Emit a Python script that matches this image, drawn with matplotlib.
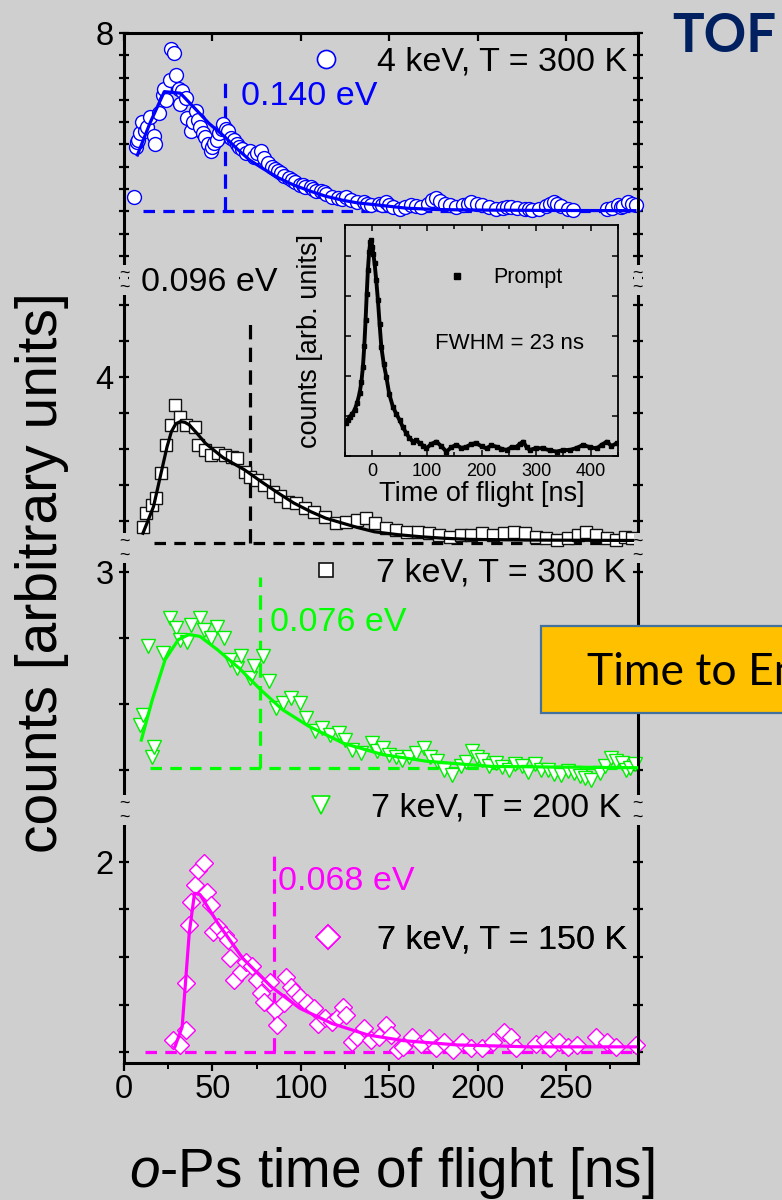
import matplotlib
matplotlib.use('Agg')
import matplotlib.pyplot as plt
from matplotlib.lines import Line2D
from matplotlib.patches import Rectangle
from matplotlib.ticker import FixedLocator, MultipleLocator

BG = '#d0cfd0'
plt.rcParams['font.family'] = ['Liberation Sans', 'DejaVu Sans']
plt.rcParams['mathtext.fontset'] = 'custom'
plt.rcParams['mathtext.it'] = 'Liberation Sans:italic'
plt.rcParams['mathtext.rm'] = 'Liberation Sans'

# ---------------- data ----------------
# 4 keV, T = 300 K (blue circles)
t_blue = [5.6, 6.6, 7.4, 8.2, 9.3, 10.2, 12.0, 13.2, 14.7, 16.7, 17.6, 19.8, 21.8, 22.8, 24.0, 25.8, 26.8,
          28.4, 29.4, 30.9, 31.9, 33.0, 34.9, 35.9, 37.9, 39.0, 40.9, 42.0, 43.0, 44.5, 46.0, 47.5, 49.0,
          50.0, 51.0, 52.5, 54.0, 55.2, 56.1, 57.5, 59.1, 60.5, 62.2, 63.7, 65.2, 67.0, 69.2, 71.0, 73.3,
          75.0, 77.3, 79.0, 81.4, 84.0, 85.5, 87.4, 89.0, 90.5, 93.5, 95.0, 96.5, 99.5, 101.0, 102.5,
          105.6, 107.0, 108.5, 111.6, 113.0, 114.5, 117.7, 121.0, 123.5, 125.8, 128.5, 131.9, 135.5,
          137.5, 139.9, 144.0, 146.0, 148.0, 150.0, 152.0, 156.1, 159.0, 162.2, 165.0, 168.2, 172.0,
          174.0, 176.3, 179.0, 181.5, 184.4, 188.0, 192.0, 194.5, 196.5, 199.5, 202.6, 206.5, 210.6,
          214.5, 216.5, 218.7, 222.5, 226.8, 229.0, 231.0, 234.9, 239.0, 241.0, 243.0, 245.0, 247.0,
          251.1, 254.0, 273.2, 276.0, 279.3, 281.0, 282.5, 285.4, 287.5, 289.4]
c_blue = [7.266, 7.49, 7.51, 7.52, 7.55, 7.60, 7.56, 7.58, 7.625, 7.54, 7.50, 7.64, 7.72, 7.75, 7.70, 7.79, 7.93,
          7.91, 7.81, 7.75, 7.68, 7.74, 7.71, 7.62, 7.56, 7.60, 7.65, 7.61, 7.58, 7.55, 7.535, 7.50, 7.47,
          7.49, 7.505, 7.52, 7.55, 7.57, 7.59, 7.57, 7.56, 7.53, 7.52, 7.50, 7.49, 7.48, 7.46, 7.47, 7.445,
          7.46, 7.47, 7.44, 7.415, 7.40, 7.39, 7.38, 7.37, 7.36, 7.35, 7.34, 7.33, 7.32, 7.32, 7.31,
          7.31, 7.30, 7.29, 7.29, 7.285, 7.28, 7.266, 7.26, 7.255, 7.266, 7.25, 7.24, 7.24,
          7.235, 7.23, 7.235, 7.23, 7.24, 7.23, 7.22, 7.21, 7.22, 7.23, 7.225, 7.22, 7.235,
          7.25, 7.26, 7.245, 7.235, 7.23, 7.22, 7.23, 7.235, 7.24, 7.235, 7.23, 7.22, 7.21,
          7.215, 7.22, 7.22, 7.215, 7.21, 7.21, 7.205, 7.21, 7.225, 7.235, 7.24, 7.235, 7.225,
          7.21, 7.205, 7.21, 7.215, 7.23, 7.22, 7.225, 7.24, 7.235, 7.23]
fit_t_blue = [7.6, 14.7, 22.8, 31.9, 40.9, 48.0, 56.9, 64.0, 71.1, 79.0, 87.4, 96.0, 105.6, 114.0,
              123.6, 132.0, 141.7, 159.9, 178.0, 196.1, 240.0, 289.0]
fit_c_blue = [7.453, 7.596, 7.737, 7.73, 7.655, 7.595, 7.535, 7.48, 7.43, 7.39, 7.35, 7.318, 7.29, 7.268,
              7.25, 7.238, 7.23, 7.214, 7.208, 7.206, 7.204, 7.203]

# 7 keV, T = 300 K (black squares)
t_black = [10.7, 12.7, 15.7, 18.3, 21.2, 23.8, 26.4, 28.8, 31.9, 34.9, 39.9, 42.0, 46.0, 49.0, 53.1,
           57.1, 61.1, 64.2, 68.2, 71.3, 75.3, 79.4, 84.4, 88.5, 92.5, 97.5, 102.6, 107.6, 113.7,
           119.7, 125.8, 131.9, 136.9, 142.0, 148.0, 154.1, 160.1, 166.2, 172.3, 178.3, 184.4, 190.4,
           196.5, 202.6, 208.6, 214.7, 220.8, 226.8, 232.9, 238.9, 245.0, 251.0, 257.1, 261.2, 267.2,
           273.3, 278.3, 283.4, 287.4]
c_black = [3.584, 3.621, 3.644, 3.663, 3.733, 3.811, 3.867, 3.922, 3.89, 3.867, 3.862, 3.811, 3.797,
           3.783, 3.79, 3.783, 3.779, 3.774, 3.737, 3.723, 3.714, 3.70, 3.681, 3.668, 3.654, 3.649,
           3.635, 3.626, 3.612, 3.594, 3.598, 3.603, 3.607, 3.594, 3.58, 3.575, 3.57, 3.57, 3.566,
           3.561, 3.556, 3.561, 3.561, 3.566, 3.561, 3.566, 3.57, 3.566, 3.556, 3.552, 3.547, 3.552,
           3.561, 3.57, 3.561, 3.552, 3.547, 3.556, 3.552]
fit_t_black = [10.7, 13.5, 16.7, 19.0, 21.8, 24.3, 26.8, 29.3, 31.9, 34.4, 36.9, 41.0, 46.0, 56.0, 68.2,
               78.0, 87.4, 96.0, 105.6, 114.0, 123.6, 132.0, 141.7, 155.0, 168.5, 181.0, 195.3, 230.0,
               289.4]
fit_c_black = [3.566, 3.60, 3.64, 3.69, 3.751, 3.805, 3.848, 3.870, 3.876, 3.874, 3.867, 3.845, 3.816,
               3.776, 3.742, 3.708, 3.677, 3.65, 3.626, 3.608, 3.594, 3.582, 3.57, 3.562, 3.556, 3.552,
               3.549, 3.547, 3.546]

# 7 keV, T = 200 K (green triangles)
t_green = [9.0, 11.0, 13.5, 16.0, 17.2, 22.1, 25.8, 29.5, 31.9, 35.6, 38.1, 43.0, 45.4, 49.1, 52.8,
           56.5, 60.2, 63.9, 66.3, 71.3, 73.7, 78.6, 82.3, 86.0, 89.7, 94.6, 99.5, 103.2, 108.1, 111.8,
           116.7, 121.6, 125.0, 129.1, 134.0, 140.1, 143.0, 146.3, 150.0, 153.7, 157.0, 161.0, 165.0,
           169.6, 173.0, 177.0, 181.0, 185.6, 190.5, 193.5, 196.6, 199.5, 202.8, 206.5, 210.2, 214.0,
           217.6, 221.0, 224.9, 228.5, 232.3, 236.0, 239.7, 243.5, 247.1, 251.0, 254.5, 258.0, 261.0,
           264.3, 269.2, 272.0, 275.4, 278.5, 281.5, 284.0, 286.4, 289.0]
c_green = [2.768, 2.783, 2.887, 2.72, 2.735, 2.877, 2.93, 2.915, 2.897, 2.894, 2.92, 2.93, 2.912, 2.90,
           2.917, 2.90, 2.867, 2.854, 2.872, 2.839, 2.857, 2.872, 2.834, 2.793, 2.801, 2.809, 2.801,
           2.778, 2.758, 2.763, 2.753, 2.756, 2.745, 2.73, 2.725, 2.74, 2.728, 2.733, 2.722, 2.72,
           2.715, 2.72, 2.726, 2.733, 2.72, 2.713, 2.70, 2.692, 2.705, 2.712, 2.728, 2.72, 2.715,
           2.706, 2.71, 2.704, 2.70, 2.708, 2.705, 2.697, 2.708, 2.70, 2.70, 2.694, 2.692, 2.698,
           2.695, 2.69, 2.687, 2.685, 2.695, 2.706, 2.718, 2.713, 2.71, 2.699, 2.703, 2.708]
fit_t_green = [9.8, 16.0, 23.3, 30.7, 36.8, 43.0, 52.8, 65.1, 77.4, 89.7, 104.5, 124.2, 146.3, 170.9,
               207.8, 290.0]
fit_c_green = [2.745, 2.806, 2.867, 2.897, 2.905, 2.902, 2.882, 2.854, 2.821, 2.791, 2.766, 2.74, 2.723,
               2.713, 2.705, 2.703]

# 7 keV, T = 150 K (magenta diamonds)
t_mag = [27.8, 31.9, 34.9, 34.9, 36.9, 37.9, 39.9, 42.0, 45.0, 47.0, 49.0, 50.1, 53.1, 57.1, 59.1,
         60.2, 62.2, 66.2, 69.2, 72.3, 75.3, 77.3, 79.4, 82.4, 85.4, 86.4, 90.5, 91.5, 94.5, 96.5,
         99.5, 103.6, 107.6, 109.7, 113.7, 117.7, 120.8, 123.8, 125.8, 128.8, 131.9, 135.9, 139.9,
         144.0, 148.0, 151.1, 155.1, 158.1, 163.2, 168.2, 172.3, 176.3, 181.3, 186.4, 191.4, 196.5,
         202.6, 208.6, 214.7, 218.7, 221.8, 232.9, 237.9, 240.9, 246.0, 251.1, 256.1, 267.2, 273.3,
         278.3, 289.4]
c_mag = [1.625, 1.615, 1.646, 1.745, 1.867, 1.916, 1.952, 1.983, 1.997, 1.937, 1.909, 1.853, 1.864,
         1.846, 1.836, 1.797, 1.752, 1.769, 1.79, 1.78, 1.752, 1.724, 1.706, 1.748, 1.688, 1.657,
         1.703, 1.758, 1.737, 1.727, 1.716, 1.703, 1.692, 1.66, 1.671, 1.664, 1.674, 1.695, 1.678,
         1.622, 1.632, 1.65, 1.625, 1.632, 1.657, 1.636, 1.604, 1.611, 1.632, 1.618, 1.629, 1.608,
         1.622, 1.604, 1.622, 1.608, 1.608, 1.622, 1.643, 1.632, 1.608, 1.618, 1.625, 1.608, 1.622,
         1.611, 1.615, 1.632, 1.622, 1.611, 1.615]
fit_t_mag = [28.8, 32.9, 36.9, 39.9, 43.0, 53.1, 67.2, 83.4, 99.5, 117.7, 137.9, 158.1, 188.4, 228.8, 289.4]
fit_c_mag = [1.611, 1.653, 1.85, 1.934, 1.931, 1.871, 1.797, 1.737, 1.692, 1.66, 1.636, 1.624, 1.615,
             1.611, 1.611]

series_labels = ['4 keV, T = 300 K', '7 keV, T = 300 K', '7 keV, T = 200 K', '7 keV, T = 150 K']
energy_labels = ['0.140 eV', '0.096 eV', '0.076 eV', '0.068 eV']
t_energy = [57.1, 71.3, 77.0, 85.0]          # ns, vertical dashed markers
top_energy = [7.80, 4.158, 2.992, 2.029]      # top of vertical markers
baseline = [7.20, 3.539, 2.703, 1.60]
baseline_start = [10.7, 16.7, 14.7, 11.7]

# inset: prompt peak
t_prompt = [-47.7, -44.5, -41.7, -37.0, -32.5, -28.0, -23.3, -20.0, -17.2, -14.7, -12.3, -10.2, -8.1,
            -5.8, -3.7, -1.8, 0.0, 2.0, 4.2, 7.2, 10.3, 13.4, 16.5, 21.0, 25.7, 31.0, 37.8, 44.0, 50.0,
            56.0, 62.3, 68.0, 74.5, 80.5, 86.8, 93.0, 99.0, 108.0, 117.4, 126.0, 135.8, 145.0, 154.1,
            163.0, 172.5, 181.5, 190.8, 200.0, 209.2, 218.0, 227.5, 236.5, 245.9, 255.0, 264.2, 270.0,
            276.4, 282.5, 288.6, 300.0, 313.1, 325.0, 337.6, 350.0, 362.0, 374.0, 386.4, 398.0, 411.0,
            420.0, 429.4, 438.0, 447.7]
c_prompt = [0.82, 0.90, 0.98, 1.05, 1.15, 1.32, 1.57, 1.85, 2.23, 2.75, 3.40, 4.05, 4.65,
            5.10, 5.36, 5.40, 5.23, 5.05, 4.82, 4.40, 3.90, 3.30, 2.73, 2.30, 1.98, 1.55, 1.23, 1.05, 0.90,
            0.72, 0.57, 0.45, 0.36, 0.40, 0.32, 0.26, 0.19, 0.30, 0.36, 0.25, 0.11, 0.22, 0.28,
            0.20, 0.23, 0.30, 0.32, 0.24, 0.19, 0.27, 0.23, 0.18, 0.15, 0.22, 0.23, 0.30,
            0.36, 0.22, 0.15, 0.20, 0.19, 0.14, 0.11, 0.15, 0.15, 0.20, 0.28, 0.22, 0.19,
            0.28, 0.36, 0.25, 0.32]

# ---------------- layout ----------------
W, H = 782, 1200
X0, X1 = 124, 637.5
bounds = [33, 280, 548, 810, 1063]
ylims = [(6.892, 8.0), (3.525, 4.269), (2.639, 3.036), (1.577, 2.109)]
yticks = [[6.9, 7.0, 7.1, 7.2, 7.3, 7.4, 7.5, 7.6, 7.7, 7.8, 7.9, 8.0],
          [3.6, 3.7, 3.8, 3.9, 4.0, 4.1, 4.2],
          [2.7, 2.8, 2.9, 3.0],
          [1.6, 1.7, 1.8, 1.9, 2.0]]
ylabeled = [8.0, 4.0, 3.0, 2.0]
ylabeltxt = ['8', '4', '3', '2']
XLIM = (0, 290.5)

colors = ['#0000ff', '#000000', '#00ff00', '#ff00ff']
markers = ['o', 's', 'v', 'D']
msizes = [10, 8.5, 10.5, 9.5]
legend_ms = [13, 9.5, 13, 12]
mec = ['#0000ff', '#111111', '#00ee00', '#ff00ff']
FS = 24.5     # legend / annotation text
TFS = 23.5    # tick labels

fig = plt.figure(figsize=(W / 100, H / 100), dpi=100, facecolor=BG)


def frect(x0, ytop, x1, ybot):
    return [x0 / W, 1 - ybot / H, (x1 - x0) / W, (ybot - ytop) / H]


axes = []
for i in range(4):
    ax = fig.add_axes(frect(X0, bounds[i], X1, bounds[i + 1]))
    ax.set_facecolor('none')
    ax.set_xlim(*XLIM)
    ax.set_ylim(*ylims[i])
    for s in ax.spines.values():
        s.set_linewidth(2.2)
    ax.spines['top'].set_visible(i == 0)
    ax.spines['bottom'].set_visible(i == 3)
    ax.yaxis.set_major_locator(FixedLocator(yticks[i]))
    ax.set_yticklabels([ylabeltxt[i] if abs(v - ylabeled[i]) < 1e-6 else '' for v in yticks[i]])
    ax.tick_params(axis='y', which='major', direction='inout', length=7, width=1.6,
                   left=True, right=True, labelsize=TFS, pad=4)
    ax.xaxis.set_major_locator(MultipleLocator(50))
    ax.xaxis.set_minor_locator(MultipleLocator(25))
    if i == 0:
        ax.tick_params(axis='x', which='major', top=True, bottom=False, direction='in',
                       length=6, width=1.6, labelbottom=False)
        ax.tick_params(axis='x', which='minor', top=False, bottom=False)
    elif i == 3:
        ax.tick_params(axis='x', which='major', top=False, bottom=True, direction='out',
                       length=6, width=1.6, labelsize=TFS, pad=2)
        ax.tick_params(axis='x', which='minor', top=False, bottom=True, direction='out',
                       length=4, width=1.4)
    else:
        ax.tick_params(axis='x', which='both', top=False, bottom=False, labelbottom=False)
    axes.append(ax)

data = [(t_blue, c_blue, fit_t_blue, fit_c_blue),
        (t_black, c_black, fit_t_black, fit_c_black),
        (t_green, c_green, fit_t_green, fit_c_green),
        (t_mag, c_mag, fit_t_mag, fit_c_mag)]

ann_pos = [(66.2, 7.713), (9.6, 4.261), (82.6, 2.923), (87.4, 1.958)]
for i, ax in enumerate(axes):
    t, c, ft, fc = data[i]
    col = colors[i]
    ax.plot([baseline_start[i], XLIM[1]], [baseline[i], baseline[i]], color=col, lw=2.3,
            dashes=(3.6, 2.6), zorder=1, clip_on=False)
    ax.plot([t_energy[i], t_energy[i]], [baseline[i], top_energy[i]], color=col, lw=2.3,
            dashes=(4.5, 2.6), zorder=1, clip_on=False)
    ax.plot(t, c, ls='none', marker=markers[i], ms=msizes[i], mfc='white', mec=mec[i], mew=1.0,
            zorder=2, clip_on=False)
    ax.plot(ft, fc, color=col, lw=2.3, zorder=3, clip_on=False)
    ax.text(ann_pos[i][0], ann_pos[i][1], energy_labels[i], color=col, fontsize=FS,
            ha='left', va='center', zorder=4)

# legends
leg_axes = [0, 2, 3, 3]
leg_anchor = [(0.9796, 0.8826), (0.9776, 0.9046), (0.968, 1.008), (0.9796, 0.486)]
leg_pad = [1.0, 0.95, 0.95, 0.95]
for i in range(4):
    h = Line2D([], [], ls='none', marker=markers[i], ms=legend_ms[i], mfc='white', mec=mec[i], mew=1.2)
    lg = axes[leg_axes[i]].legend([h], [series_labels[i]], loc='center right',
                                  bbox_to_anchor=leg_anchor[i], frameon=False, borderpad=0,
                                  borderaxespad=0, handlelength=1.0, handletextpad=leg_pad[i],
                                  fontsize=FS)
    lg.set_zorder(6)
    if i >= 2:
        axes[3].add_artist(lg)

# inset
ax_in = fig.add_axes(frect(345, 225, 618, 456), zorder=5)
ax_in.set_facecolor('none')
ax_in.plot(t_prompt, c_prompt, color='black', lw=2.8, marker='s', ms=2.5)
ax_in.set_xlim(-50, 450)
ax_in.set_ylim(0, 5.78)
for s in ax_in.spines.values():
    s.set_linewidth(1.3)
ax_in.xaxis.set_major_locator(MultipleLocator(100))
ax_in.xaxis.set_minor_locator(MultipleLocator(50))
ax_in.yaxis.set_major_locator(MultipleLocator(1))
ax_in.tick_params(which='both', direction='in', top=True, right=True, width=1.1)
ax_in.tick_params(which='major', length=4)
ax_in.tick_params(which='minor', length=3)
ax_in.tick_params(axis='x', labelsize=13, pad=5)
ax_in.set_yticklabels([])
ax_in.set_xlabel('Time of flight [ns]', fontsize=19.5, labelpad=1)
ax_in.set_ylabel('counts [arb. units]', fontsize=19.5, labelpad=12)
hp = Line2D([], [], ls='none', marker='s', ms=4, color='black')
ax_in.legend([hp], ['Prompt'], loc='center left', bbox_to_anchor=(0.37, 0.771), frameon=False,
             borderpad=0, borderaxespad=0, handlelength=1.0, handletextpad=1.2, fontsize=15.5)
ax_in.text(0.33, 0.485, 'FWHM = 23 ns', transform=ax_in.transAxes, fontsize=16, va='center', ha='left')

# overlay for axis breaks, axis titles and slide elements
ov = fig.add_axes([0, 0, 1, 1], zorder=10)
ov.set_xlim(0, W)
ov.set_ylim(H, 0)
ov.axis('off')
ov.patch.set_alpha(0)
for yb in bounds[1:4]:
    for xb in (X0, X1):
        ov.add_patch(Rectangle((xb - 4, yb - 15), 8, 30, facecolor=BG, edgecolor='none'))
        ov.text(xb, yb - 7, '~', ha='center', va='center', fontsize=13)
        ov.text(xb, yb + 7, '~', ha='center', va='center', fontsize=13)

fig.text(42 / W, 1 - 573 / H, 'counts [arbitrary units]', rotation=90, ha='center', va='center',
         fontsize=41)
fig.text(392 / W, 1 - 1187 / H, r'$\mathit{o}$-Ps time of flight [ns]', ha='center', va='baseline',
         fontsize=39.5)

ov.text(672, 52, 'TOF', fontsize=38, fontweight='bold', color='#002060', family='Lato',
        ha='left', va='baseline')
ov.add_patch(Rectangle((541, 626), 300, 87, facecolor='#FFC000', edgecolor='#41719C', lw=1.6,
                       clip_on=False))
ov.text(587, 685, 'Time to Energy', fontsize=32, family='Lato', color='black', ha='left',
        va='baseline', clip_on=False)

fig.savefig('out.png', dpi=100, facecolor=BG)
